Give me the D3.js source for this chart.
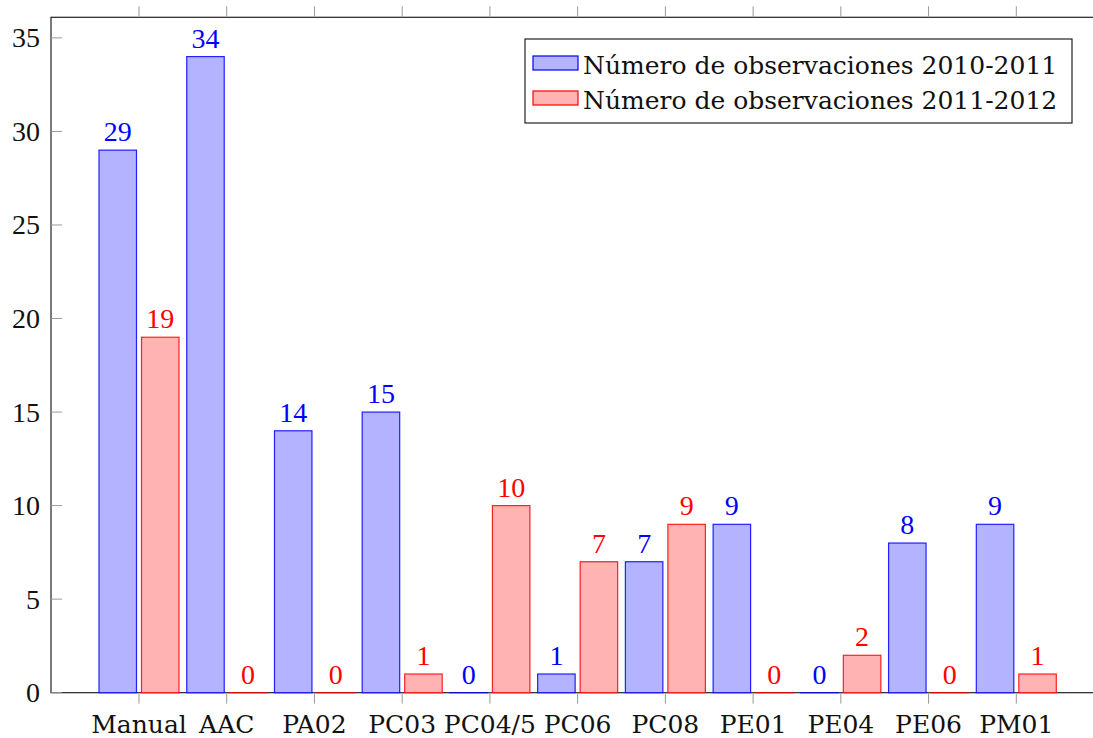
<!DOCTYPE html>
<html>
<head>
<meta charset="utf-8">
<script src="https://cdn.jsdelivr.net/npm/d3@7"></script>
<style>
  body { margin: 0; background: #fff; }
  .lab { font-family: "DejaVu Serif", serif; font-size: 25px; }
</style>
</head>
<body>
<svg id="chart"></svg>
<script>
// data
var categories = ["Manual", "AAC", "PA02", "PC03", "PC04/5", "PC06", "PC08", "PE01", "PE04", "PE06", "PM01"];
var obs2010 = [29, 34, 14, 15, 0, 1, 7, 9, 0, 8, 9];
var obs2011 = [19, 0, 0, 1, 10, 7, 9, 0, 2, 0, 1];
var seriesNames = ["Número de observaciones 2010-2011", "Número de observaciones 2011-2012"];
var yTicks = [0, 5, 10, 15, 20, 25, 30, 35];

var width = 1093, height = 738;
var box = { left: 51, right: 1104, top: 17.3, bottom: 692.7 };
var numFont = "Liberation Serif";

var svg = d3.select("#chart")
  .attr("width", width)
  .attr("height", height);

// scales
var x = d3.scalePoint().domain(categories).range([139, 1016.3]);
var y = d3.scaleLinear().domain([0, 36.1]).range([box.bottom, box.top]);

var barW = 37.5, shift = 21.25;

var series = [
  { name: seriesNames[0], values: obs2010, fill: "#b3b3ff", stroke: "#0000ff", off: -shift },
  { name: seriesNames[1], values: obs2011, fill: "#ffb3b3", stroke: "#ff0000", off: shift }
];

// box first, bars over it (zero bars show as coloured lines on the baseline)
svg.append("rect")
  .attr("x", box.left)
  .attr("y", box.top)
  .attr("width", box.right - box.left)
  .attr("height", box.bottom - box.top)
  .attr("fill", "none")
  .attr("stroke", "#222")
  .attr("stroke-width", 1.2);

// bars
series.forEach(function(s) {
  var g = svg.append("g");
  g.selectAll("rect")
    .data(s.values)
    .enter().append("rect")
    .attr("x", function(d, i) { return x(categories[i]) + s.off - barW / 2; })
    .attr("y", function(d) { return y(d); })
    .attr("width", barW)
    .attr("height", function(d) { return Math.max(y(0) - y(d), 0.01); })
    .attr("fill", s.fill)
    .attr("stroke", s.stroke)
    .attr("stroke-opacity", 0.85)
    .attr("stroke-width", 1.2);

  g.selectAll("text")
    .data(s.values)
    .enter().append("text")
    .attr("x", function(d, i) { return x(categories[i]) + s.off; })
    .attr("y", function(d) { return y(d) - 9; })
    .attr("text-anchor", "middle")
    .attr("font-family", numFont)
    .attr("font-size", 28)
    .attr("fill", s.stroke)
    .text(function(d) { return d; });
});

// x ticks (outside, top and bottom)
var xt = svg.append("g");
categories.forEach(function(c) {
  xt.append("line")
    .attr("x1", x(c)).attr("x2", x(c))
    .attr("y1", box.bottom).attr("y2", box.bottom + 11)
    .attr("stroke", "#999");
  xt.append("line")
    .attr("x1", x(c)).attr("x2", x(c))
    .attr("y1", box.top).attr("y2", box.top - 11)
    .attr("stroke", "#999");
  xt.append("text")
    .attr("class", "lab")
    .attr("x", x(c))
    .attr("y", 733)
    .attr("text-anchor", "middle")
    .attr("fill", "#111")
    .text(c);
});

// y ticks (inside)
var yt = svg.append("g");
yTicks.forEach(function(t) {
  yt.append("line")
    .attr("x1", box.left).attr("x2", box.left + 11)
    .attr("y1", y(t)).attr("y2", y(t))
    .attr("stroke", "#999");
  yt.append("text")
    .attr("x", 40)
    .attr("y", y(t))
    .attr("dy", "0.34em")
    .attr("text-anchor", "end")
    .attr("font-family", numFont)
    .attr("font-size", 28)
    .attr("fill", "#111")
    .text(t);
});

// legend
var leg = svg.append("g").attr("transform", "translate(525,39)");
leg.append("rect")
  .attr("width", 547).attr("height", 84)
  .attr("fill", "#fff")
  .attr("stroke", "#222")
  .attr("stroke-width", 1.2);
series.forEach(function(s, i) {
  leg.append("rect")
    .attr("x", 8).attr("y", 17 + i * 35)
    .attr("width", 45).attr("height", 14)
    .attr("fill", s.fill)
    .attr("stroke", s.stroke)
    .attr("stroke-width", 1.2);
  leg.append("text")
    .attr("class", "lab")
    .attr("x", 58).attr("y", 35 + i * 35)
    .attr("fill", "#111")
    .text(s.name);
});
</script>
</body>
</html>
